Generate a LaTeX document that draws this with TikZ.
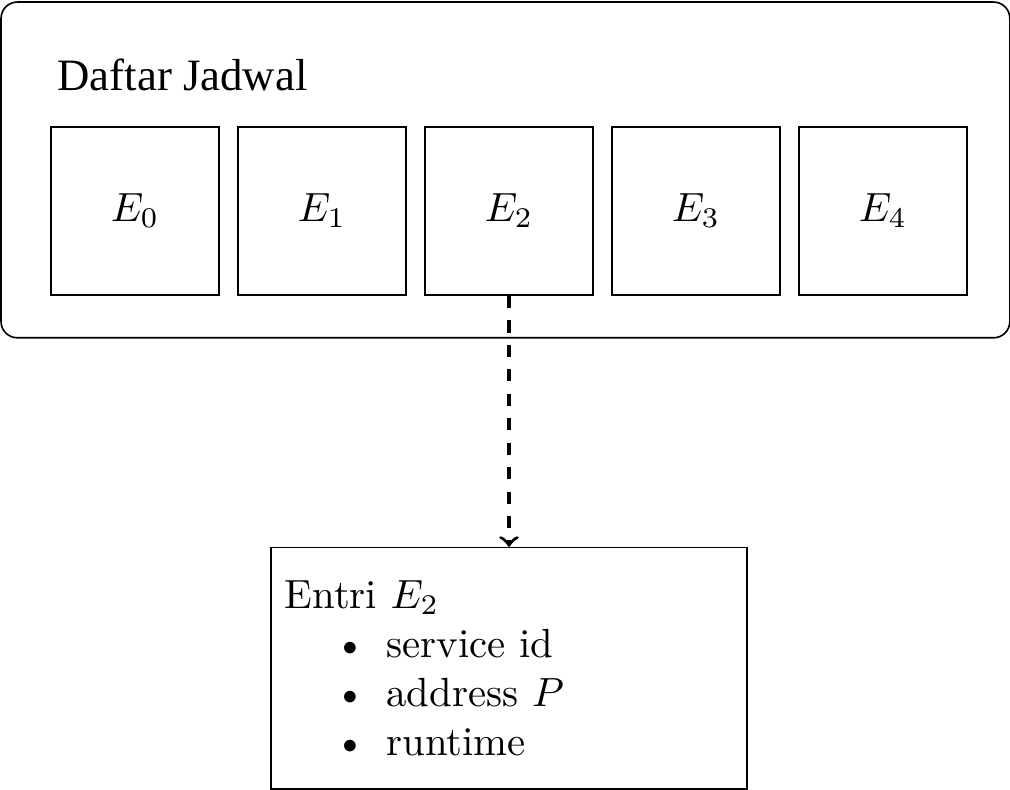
\documentclass[tikz,border=0pt]{standalone}
\usepackage{amsmath}
\usepackage{fontspec}
\usepackage{enumitem}
\usepackage{tikz}
\usetikzlibrary{positioning, arrows, fit, calc}
\newfontfamily\titlefont{Liberation Serif}
\newcommand{\Entry}[1]{$E_{#1}$}
\tikzset{
    slot/.style={draw, minimum size=1.448cm, inner sep=0pt},
    group/.style={draw, rounded corners, inner sep=0.362cm},
    record/.style={draw, align=left, text width=3.868cm, minimum height=2.08cm},
}

\begin{document}
\begin{tikzpicture}
    \tikzset{
      node distance=0.15cm
    }
    \useasboundingbox (0,0) rectangle (8.707,-6.810);

    \node[anchor=base west] (title) at (0.371,-0.776) {\titlefont\fontsize{11}{13}\selectfont Daftar Jadwal};
    \node[slot] (e0) at (1.164,-1.819) {\Entry{0}};
    \node[slot, right=of e0] (e1) {\Entry{1}};
    \node[slot, right=of e1] (e2) {\Entry{2}};
    \node[slot, right=of e2] (e3) {\Entry{3}};
    \node[slot, right=of e3] (e4) {\Entry{4}};

    \node[group, fit=(title) (e0) (e4)] (table) {};

    \node[record, below=2.164cm of e2] (entry) {Entri $E_2$
      \begin{itemize}[nosep]
        \item service id
        \item address $P$
        \item runtime
      \end{itemize}};

    \draw[thick, dashed, ->] (e2) -- (entry);
  \end{tikzpicture}
\end{document}
